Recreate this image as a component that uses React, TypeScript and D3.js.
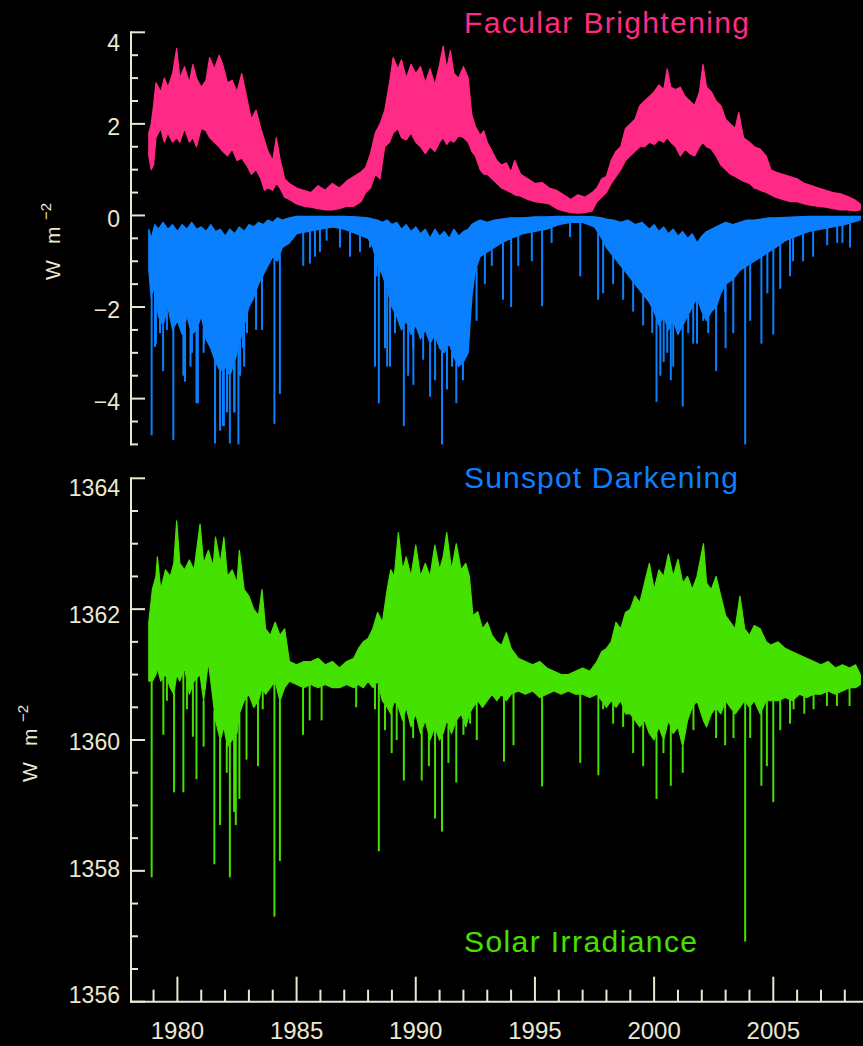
import React from "react";
import * as d3 from "d3";

// [year, upper, lower] envelopes
const faculae: [number, number, number][] = [
  [1978.8, 1.8, 1.3], [1978.9, 2.0, 1.0], [1979.0, 2.4, 1.1], [1979.1, 2.9, 1.7], [1979.3, 2.7, 1.9],
  [1979.45, 3.0, 1.6], [1979.6, 2.8, 1.8], [1979.8, 3.1, 1.6], [1979.97, 3.65, 1.7], [1980.1, 3.0, 1.6],
  [1980.3, 3.25, 1.9], [1980.5, 2.9, 1.6], [1980.65, 3.3, 1.7], [1980.8, 3.0, 1.5], [1981.0, 2.8, 1.9],
  [1981.2, 2.95, 1.85], [1981.35, 3.45, 1.7], [1981.55, 3.2, 1.6], [1981.75, 3.5, 1.5], [1981.9, 3.3, 1.4],
  [1982.1, 2.9, 1.3], [1982.3, 2.95, 1.45], [1982.5, 2.7, 1.2], [1982.7, 3.1, 1.25], [1982.9, 2.6, 1.1],
  [1983.1, 2.1, 0.9], [1983.3, 2.3, 1.0], [1983.5, 1.9, 0.8], [1983.65, 1.65, 0.55], [1983.8, 1.4, 0.6],
  [1984.0, 1.2, 0.55], [1984.15, 1.7, 0.7], [1984.3, 1.25, 0.6], [1984.5, 0.8, 0.4], [1984.7, 0.7, 0.35],
  [1985.0, 0.6, 0.25], [1985.3, 0.55, 0.2], [1985.6, 0.5, 0.18], [1985.9, 0.65, 0.15], [1986.2, 0.55, 0.12],
  [1986.5, 0.7, 0.12], [1986.8, 0.6, 0.15], [1987.1, 0.75, 0.2], [1987.4, 0.85, 0.2], [1987.7, 0.95, 0.3],
  [1987.9, 1.05, 0.5], [1988.1, 1.35, 0.6], [1988.3, 1.8, 0.9], [1988.5, 2.0, 0.8], [1988.7, 2.3, 1.5],
  [1988.9, 2.9, 1.6], [1989.05, 3.45, 1.8], [1989.25, 3.2, 1.9], [1989.4, 3.4, 1.7], [1989.6, 3.0, 1.65],
  [1989.8, 3.3, 1.8], [1990.0, 3.1, 1.6], [1990.2, 3.25, 1.5], [1990.4, 2.9, 1.35], [1990.6, 3.2, 1.5],
  [1990.8, 2.85, 1.4], [1991.0, 3.3, 1.6], [1991.15, 3.7, 1.7], [1991.3, 3.2, 1.55], [1991.45, 3.6, 1.65],
  [1991.6, 3.1, 1.6], [1991.8, 3.0, 1.75], [1992.0, 3.25, 1.7], [1992.2, 3.0, 1.6], [1992.35, 2.2, 1.4],
  [1992.5, 1.95, 1.3], [1992.7, 1.75, 1.0], [1992.85, 1.85, 0.9], [1993.0, 1.6, 0.9], [1993.2, 1.4, 0.8],
  [1993.4, 1.2, 0.7], [1993.6, 1.1, 0.6], [1993.8, 1.15, 0.55], [1994.0, 0.95, 0.5], [1994.15, 1.2, 0.45],
  [1994.4, 0.9, 0.42], [1994.7, 0.8, 0.35], [1995.0, 0.7, 0.3], [1995.3, 0.72, 0.28], [1995.6, 0.6, 0.25],
  [1995.9, 0.55, 0.15], [1996.2, 0.45, 0.1], [1996.5, 0.35, 0.06], [1996.8, 0.45, 0.05], [1997.1, 0.4, 0.06],
  [1997.4, 0.5, 0.1], [1997.6, 0.6, 0.3], [1997.8, 0.8, 0.4], [1998.0, 0.85, 0.5], [1998.2, 1.2, 0.7],
  [1998.4, 1.4, 0.85], [1998.6, 1.5, 1.0], [1998.8, 1.9, 1.2], [1999.0, 2.0, 1.3], [1999.2, 2.1, 1.4],
  [1999.4, 2.4, 1.5], [1999.6, 2.5, 1.5], [1999.8, 2.6, 1.6], [2000.0, 2.7, 1.55], [2000.2, 2.85, 1.65],
  [2000.4, 2.75, 1.6], [2000.55, 3.2, 1.7], [2000.7, 2.8, 1.6], [2000.9, 2.75, 1.5], [2001.1, 2.8, 1.3],
  [2001.3, 2.6, 1.45], [2001.5, 2.5, 1.35], [2001.7, 2.4, 1.3], [2001.9, 2.7, 1.5], [2002.05, 3.3, 1.6],
  [2002.2, 2.8, 1.5], [2002.4, 2.7, 1.45], [2002.6, 2.5, 1.3], [2002.8, 2.4, 1.1], [2003.0, 2.1, 1.0],
  [2003.2, 2.0, 0.9], [2003.4, 1.9, 0.85], [2003.55, 2.25, 0.8], [2003.75, 1.7, 0.75], [2004.0, 1.6, 0.7],
  [2004.2, 1.5, 0.6], [2004.45, 1.45, 0.55], [2004.7, 1.3, 0.5], [2004.9, 1.0, 0.45], [2005.1, 0.95, 0.4],
  [2005.4, 0.9, 0.35], [2005.7, 0.85, 0.3], [2006.0, 0.8, 0.3], [2006.3, 0.7, 0.25], [2006.6, 0.65, 0.22],
  [2006.9, 0.6, 0.2], [2007.2, 0.55, 0.18], [2007.5, 0.5, 0.15], [2007.8, 0.48, 0.12], [2008.1, 0.42, 0.12],
  [2008.4, 0.35, 0.1], [2008.65, 0.25, 0.12],
];

const sunspots: [number, number, number][] = [
  [1978.8, -0.3, -1.2], [1978.9, -0.5, -1.8], [1979.05, -0.2, -1.5], [1979.2, -0.3, -2.2], [1979.4, -0.15, -2.4],
  [1979.6, -0.3, -2.0], [1979.8, -0.2, -2.5], [1980.0, -0.35, -2.3], [1980.2, -0.2, -2.6], [1980.4, -0.3, -2.2],
  [1980.6, -0.15, -2.6], [1980.8, -0.3, -2.5], [1981.0, -0.25, -2.2], [1981.2, -0.35, -2.7], [1981.4, -0.2, -2.9],
  [1981.6, -0.35, -3.2], [1981.8, -0.3, -3.4], [1982.0, -0.45, -3.3], [1982.2, -0.3, -3.5], [1982.4, -0.4, -3.2],
  [1982.6, -0.25, -2.8], [1982.8, -0.35, -2.4], [1983.0, -0.2, -2.0], [1983.2, -0.25, -1.8], [1983.4, -0.15, -1.5],
  [1983.6, -0.2, -1.3], [1983.8, -0.1, -1.1], [1984.0, -0.15, -0.9], [1984.2, -0.05, -1.0], [1984.4, -0.1, -0.7],
  [1984.7, -0.05, -0.6], [1985.0, -0.02, -0.4], [1985.5, -0.02, -0.35], [1986.0, -0.02, -0.3], [1986.5, -0.02, -0.25],
  [1987.0, -0.02, -0.3], [1987.5, -0.03, -0.4], [1988.0, -0.05, -0.5], [1988.2, -0.08, -0.7], [1988.4, -0.1, -1.1],
  [1988.6, -0.15, -1.3], [1988.8, -0.1, -1.6], [1989.0, -0.2, -2.0], [1989.2, -0.15, -2.2], [1989.4, -0.3, -2.5],
  [1989.6, -0.2, -2.3], [1989.8, -0.35, -2.6], [1990.0, -0.25, -2.4], [1990.2, -0.4, -2.7], [1990.4, -0.3, -2.5],
  [1990.6, -0.5, -2.8], [1990.8, -0.3, -2.6], [1991.0, -0.45, -2.9], [1991.2, -0.35, -3.0], [1991.4, -0.5, -2.8],
  [1991.6, -0.3, -3.1], [1991.8, -0.45, -3.3], [1992.0, -0.35, -3.2], [1992.2, -0.3, -3.0], [1992.35, -0.2, -1.8],
  [1992.5, -0.15, -1.2], [1992.7, -0.1, -0.9], [1993.0, -0.15, -0.8], [1993.3, -0.1, -0.7], [1993.6, -0.08, -0.6],
  [1994.0, -0.05, -0.5], [1994.5, -0.05, -0.4], [1995.0, -0.03, -0.35], [1995.5, -0.03, -0.3], [1996.0, -0.02, -0.2],
  [1996.5, -0.02, -0.15], [1997.0, -0.02, -0.15], [1997.5, -0.03, -0.25], [1997.8, -0.05, -0.5], [1998.0, -0.08, -0.7],
  [1998.3, -0.1, -0.9], [1998.6, -0.15, -1.1], [1998.9, -0.1, -1.3], [1999.2, -0.2, -1.5], [1999.5, -0.15, -1.7],
  [1999.8, -0.3, -1.9], [2000.0, -0.2, -2.1], [2000.2, -0.35, -2.4], [2000.4, -0.25, -2.2], [2000.6, -0.4, -2.5],
  [2000.8, -0.3, -2.3], [2001.0, -0.45, -2.6], [2001.2, -0.35, -2.4], [2001.4, -0.5, -2.2], [2001.6, -0.4, -2.0],
  [2001.8, -0.6, -1.8], [2002.0, -0.45, -2.1], [2002.2, -0.35, -2.3], [2002.4, -0.3, -2.1], [2002.6, -0.25, -2.0],
  [2002.8, -0.2, -1.7], [2003.0, -0.15, -1.5], [2003.3, -0.2, -1.4], [2003.6, -0.15, -1.2], [2003.9, -0.1, -1.1],
  [2004.2, -0.1, -1.0], [2004.5, -0.08, -0.9], [2004.8, -0.05, -0.8], [2005.1, -0.05, -0.7], [2005.5, -0.04, -0.55],
  [2006.0, -0.03, -0.45], [2006.5, -0.02, -0.35], [2007.0, -0.02, -0.3], [2007.5, -0.02, -0.25], [2008.0, -0.02, -0.2],
  [2008.3, -0.02, -0.15], [2008.65, -0.02, -0.1],
];

// [year, value] downward spikes below the sunspot band
const sunspotDips: [number, number][] = [
  [1978.92, -4.8], [1979.06, -2.87], [1979.1, -2.8], [1979.27, -2.57], [1979.4, -3.4], [1979.56, -2.5],
  [1979.83, -4.9], [1980.25, -3.5], [1980.32, -3.63], [1980.55, -3.3], [1980.61, -3.0], [1980.8, -4.1],
  [1980.86, -4.1], [1981.1, -3.0], [1981.12, -2.8], [1981.45, -2.9], [1981.58, -4.98], [1981.79, -4.7],
  [1981.91, -4.6], [1981.95, -4.6], [1982.08, -4.3], [1982.2, -4.98], [1982.38, -4.3], [1982.4, -4.3],
  [1982.56, -5.0], [1982.63, -3.5], [1982.75, -2.9], [1982.8, -3.3], [1982.92, -2.57], [1983.3, -2.5],
  [1983.55, -2.5], [1984.07, -4.55], [1984.3, -3.9], [1985.28, -1.1], [1985.56, -1.05], [1985.77, -0.9],
  [1985.98, -0.8], [1986.26, -0.55], [1986.82, -0.7], [1987.24, -0.9], [1987.66, -0.8], [1988.08, -0.7],
  [1988.29, -3.3], [1988.36, -1.33], [1988.45, -4.1], [1988.71, -2.9], [1988.8, -3.3], [1988.92, -3.3],
  [1989.13, -2.57], [1989.5, -4.6], [1989.68, -3.5], [1989.89, -2.9], [1989.9, -3.7], [1990.31, -3.15],
  [1990.6, -3.96], [1990.81, -3.6], [1991.1, -5.0], [1991.31, -3.8], [1991.52, -3.3], [1991.7, -4.1],
  [1991.98, -3.6], [1992.15, -3.0], [1992.55, -2.3], [1992.9, -1.5], [1993.19, -1.1], [1993.66, -1.84],
  [1994.0, -2.0], [1994.3, -1.1], [1994.87, -1.0], [1995.3, -1.98], [1995.7, -0.6], [1996.47, -0.47],
  [1996.9, -1.33], [1997.65, -1.84], [1997.86, -1.7], [1998.28, -1.5], [1998.7, -1.84], [1999.12, -2.1],
  [1999.54, -2.4], [1999.92, -2.57], [2000.1, -4.07], [2000.26, -3.5], [2000.4, -3.2], [2000.55, -3.0],
  [2000.7, -3.6], [2000.8, -3.3], [2001.2, -4.17], [2001.43, -2.57], [2001.64, -2.8], [2001.8, -2.8],
  [2002.06, -2.3], [2002.27, -2.57], [2002.6, -3.4], [2002.98, -2.1], [2003.0, -2.9], [2003.32, -2.57],
  [2003.82, -5.0], [2004.03, -2.3], [2004.5, -2.8], [2004.75, -1.7], [2005.0, -2.6], [2005.29, -1.6],
  [2005.7, -1.33], [2005.83, -1.0], [2006.25, -1.0], [2006.67, -0.9], [2007.26, -0.65], [2007.68, -0.6],
  [2007.9, -0.6], [2008.22, -0.7],
];

const irradiance: [number, number, number][] = [
  [1978.8, 1361.8, 1360.9], [1978.95, 1362.3, 1360.9], [1979.1, 1362.5, 1361.0], [1979.16, 1362.8, 1361.1],
  [1979.3, 1362.3, 1360.9], [1979.5, 1362.6, 1361.0], [1979.7, 1362.5, 1360.8], [1979.85, 1362.7, 1360.7],
  [1979.97, 1363.35, 1361.0], [1980.1, 1362.7, 1360.9], [1980.3, 1362.6, 1361.1], [1980.5, 1362.75, 1360.7],
  [1980.7, 1362.6, 1360.9], [1980.95, 1363.3, 1361.0], [1981.1, 1362.7, 1360.6], [1981.3, 1362.9, 1361.2],
  [1981.5, 1362.65, 1360.6], [1981.6, 1363.1, 1360.3], [1981.8, 1362.7, 1360.0], [1981.95, 1363.1, 1360.2],
  [1982.1, 1362.5, 1359.9], [1982.3, 1362.6, 1360.0], [1982.5, 1362.4, 1360.1], [1982.6, 1362.9, 1360.4],
  [1982.8, 1362.3, 1360.6], [1983.0, 1362.2, 1360.7], [1983.2, 1362.0, 1360.5], [1983.4, 1361.9, 1360.6],
  [1983.55, 1362.3, 1360.8], [1983.7, 1361.7, 1360.7], [1983.9, 1361.6, 1360.8], [1984.1, 1361.8, 1360.9],
  [1984.3, 1361.6, 1360.6], [1984.5, 1361.7, 1360.8], [1984.7, 1361.2, 1360.9], [1985.0, 1361.15, 1360.85],
  [1985.3, 1361.2, 1360.8], [1985.6, 1361.2, 1360.85], [1985.9, 1361.25, 1360.8], [1986.2, 1361.15, 1360.85],
  [1986.5, 1361.2, 1360.8], [1986.8, 1361.1, 1360.8], [1987.1, 1361.2, 1360.85], [1987.4, 1361.25, 1360.8],
  [1987.6, 1361.4, 1360.85], [1987.8, 1361.5, 1360.8], [1988.0, 1361.55, 1360.9], [1988.2, 1361.7, 1360.8],
  [1988.4, 1361.95, 1360.9], [1988.6, 1361.8, 1360.6], [1988.8, 1362.3, 1360.5], [1988.95, 1362.6, 1360.4],
  [1989.1, 1362.5, 1360.6], [1989.27, 1363.17, 1360.5], [1989.45, 1362.6, 1360.3], [1989.6, 1362.8, 1360.5],
  [1989.8, 1362.5, 1360.2], [1990.0, 1362.98, 1360.4], [1990.2, 1362.5, 1360.1], [1990.4, 1362.7, 1360.3],
  [1990.6, 1362.5, 1360.0], [1990.8, 1362.98, 1360.2], [1991.0, 1362.6, 1360.0], [1991.15, 1362.8, 1360.1],
  [1991.3, 1363.17, 1360.3], [1991.5, 1362.6, 1360.1], [1991.7, 1363.0, 1360.3], [1991.9, 1362.6, 1360.4],
  [1992.1, 1362.7, 1360.2], [1992.25, 1362.5, 1360.4], [1992.4, 1361.9, 1360.5], [1992.6, 1361.96, 1360.6],
  [1992.8, 1361.7, 1360.5], [1993.0, 1361.8, 1360.6], [1993.2, 1361.6, 1360.7], [1993.4, 1361.5, 1360.6],
  [1993.6, 1361.45, 1360.7], [1993.8, 1361.64, 1360.6], [1994.0, 1361.4, 1360.7], [1994.3, 1361.25, 1360.75],
  [1994.6, 1361.2, 1360.7], [1994.9, 1361.15, 1360.75], [1995.2, 1361.2, 1360.65], [1995.5, 1361.1, 1360.7],
  [1995.8, 1361.05, 1360.75], [1996.1, 1361.0, 1360.7], [1996.4, 1361.0, 1360.75], [1996.7, 1361.05, 1360.7],
  [1997.0, 1361.1, 1360.7], [1997.3, 1361.05, 1360.65], [1997.6, 1361.2, 1360.7], [1997.8, 1361.35, 1360.6],
  [1998.0, 1361.4, 1360.5], [1998.2, 1361.5, 1360.6], [1998.4, 1361.8, 1360.5], [1998.6, 1361.7, 1360.6],
  [1998.8, 1361.95, 1360.4], [1999.0, 1362.0, 1360.4], [1999.2, 1362.2, 1360.3], [1999.4, 1362.1, 1360.2],
  [1999.6, 1362.4, 1360.3], [1999.8, 1362.7, 1360.1], [2000.0, 1362.3, 1360.0], [2000.2, 1362.6, 1360.2],
  [2000.4, 1362.5, 1360.0], [2000.6, 1362.84, 1360.3], [2000.8, 1362.5, 1360.1], [2001.0, 1362.76, 1360.2],
  [2001.2, 1362.4, 1359.9], [2001.4, 1362.5, 1360.3], [2001.6, 1362.3, 1360.5], [2001.8, 1362.5, 1360.6],
  [2002.07, 1363.0, 1360.3], [2002.2, 1362.4, 1360.2], [2002.4, 1362.3, 1360.4], [2002.6, 1362.5, 1360.5],
  [2002.8, 1362.2, 1360.4], [2003.0, 1361.9, 1360.6], [2003.2, 1361.8, 1360.5], [2003.4, 1361.7, 1360.4],
  [2003.6, 1362.2, 1360.5], [2003.8, 1361.7, 1360.6], [2004.0, 1361.6, 1360.5], [2004.2, 1361.75, 1360.6],
  [2004.45, 1361.7, 1360.4], [2004.7, 1361.5, 1360.6], [2004.9, 1361.45, 1360.6], [2005.2, 1361.5, 1360.6],
  [2005.5, 1361.4, 1360.65], [2005.8, 1361.35, 1360.6], [2006.1, 1361.3, 1360.7], [2006.4, 1361.25, 1360.65],
  [2006.7, 1361.2, 1360.7], [2007.0, 1361.15, 1360.7], [2007.3, 1361.2, 1360.75], [2007.6, 1361.1, 1360.7],
  [2007.9, 1361.15, 1360.75], [2008.2, 1361.1, 1360.8], [2008.45, 1361.15, 1360.8], [2008.65, 1361.0, 1360.85],
];

// [year, value] downward spikes below the irradiance band
const irradianceDips: [number, number][] = [
  [1978.92, 1357.9], [1979.41, 1360.08], [1979.56, 1360.6], [1979.86, 1359.2], [1980.25, 1359.2],
  [1980.4, 1360.47], [1980.65, 1360.05], [1980.8, 1359.4], [1981.1, 1359.9], [1981.16, 1360.9],
  [1981.55, 1358.1], [1981.79, 1358.7], [1982.07, 1359.5], [1982.2, 1357.9], [1982.38, 1358.9],
  [1982.45, 1358.7], [1982.6, 1359.1], [1982.9, 1359.7], [1983.38, 1359.6], [1983.58, 1360.47],
  [1984.07, 1357.3], [1984.3, 1358.15], [1985.27, 1360.08], [1985.55, 1360.3], [1986.05, 1360.3],
  [1987.5, 1360.5], [1988.29, 1360.47], [1988.45, 1358.3], [1988.71, 1360.15], [1988.99, 1359.8],
  [1989.2, 1360.0], [1989.5, 1359.38], [1989.89, 1360.03], [1990.25, 1359.38], [1990.55, 1359.6],
  [1990.81, 1358.8], [1991.1, 1358.6], [1991.37, 1359.65], [1991.7, 1359.35], [1992.0, 1360.08],
  [1992.28, 1360.25], [1992.56, 1360.0], [1993.7, 1359.67], [1994.1, 1359.92], [1995.3, 1359.29],
  [1996.9, 1359.65], [1997.66, 1359.46], [1997.86, 1360.47], [1998.28, 1360.25], [1998.7, 1360.2],
  [1999.12, 1359.8], [1999.54, 1359.6], [1999.97, 1360.03], [2000.1, 1359.1], [2000.39, 1359.8],
  [2000.7, 1359.3], [2001.2, 1359.5], [2001.65, 1360.15], [2002.6, 1360.03], [2002.98, 1359.92],
  [2003.33, 1360.03], [2003.82, 1356.92], [2004.03, 1360.03], [2004.5, 1359.3], [2004.73, 1359.6],
  [2005.0, 1359.05], [2005.29, 1360.15], [2005.7, 1360.25], [2005.85, 1360.47], [2006.3, 1360.4],
  [2006.69, 1360.47], [2007.25, 1360.52], [2007.67, 1360.52], [2008.2, 1360.52],
];

const yearTicks = [1980, 1985, 1990, 1995, 2000, 2005];
const topTickLabels = [-4, -2, 0, 2, 4];
const bottomTickLabels = [1356, 1358, 1360, 1362, 1364];

const PINK = "#ff2a85";
const BLUE = "#0b80ff";
const GREEN = "#45e100";
const AXIS = "#ebe7d2";

const W = 863;
const H = 1046;
const AX = 131;
const FONT = "Liberation Sans, Arial, sans-serif";

const x = d3.scaleLinear().domain([1980, 2005]).range([177.4, 773.3]);
const yTop = d3.scaleLinear().domain([-5, 4]).range([444.4, 32.3]);
const yBot = d3.scaleLinear().domain([1356, 1364]).range([1001.7, 478.3]);
const yBotLabel = d3.scaleLinear().domain([1356, 1364]).range([995, 488]);

type Row = [number, number, number];

function band(data: Row[], y: d3.ScaleLinear<number, number>) {
  return (
    d3
      .area<Row>()
      .x((d) => x(d[0]))
      .y0((d) => y(d[2]))
      .y1((d) => y(d[1]))(data) || ""
  );
}

function lowerEdge(data: Row[]) {
  return d3
    .scaleLinear()
    .domain(data.map((d) => d[0]))
    .range(data.map((d) => d[2]))
    .clamp(true);
}

const fmt = (v: number) => (v < 0 ? "\u2212" + Math.abs(v) : String(v));

function YAxis({ y, labels, labelY, lo, hi }: any) {
  const minor = d3.range(lo, hi + 0.001, 0.5).filter((v) => !labels.includes(v));
  return (
    <g stroke={AXIS} strokeWidth={2}>
      <line x1={AX} x2={AX} y1={y(hi) - 1} y2={y(lo) + 1} />
      {labels.map((v: number) => (
        <line key={"M" + v} x1={AX} x2={AX + 14} y1={y(v)} y2={y(v)} />
      ))}
      {minor.map((v: number) => (
        <line key={"m" + v} x1={AX} x2={AX + 7} y1={y(v)} y2={y(v)} />
      ))}
      {labels.map((v: number) => (
        <text key={"t" + v} x={120} y={labelY(v)} dy="0.36em" textAnchor="end" fill={AXIS}
          stroke="none" fontSize={23} fontFamily={FONT}>
          {fmt(v)}
        </text>
      ))}
    </g>
  );
}

function YTitle({ bx, by }: { bx: number; by: number }) {
  return (
    <g transform={`translate(${bx},${by}) rotate(-90)`} fill={AXIS} fontFamily={FONT}>
      <text x={0} y={0} fontSize={21}>W</text>
      <text x={36} y={0} fontSize={21}>m</text>
      <text x={60} y={-9} fontSize={15}>{"\u22122"}</text>
    </g>
  );
}

export default function App() {
  const spotLo = lowerEdge(sunspots);
  const tsiLo = lowerEdge(irradiance);
  const minorYears = d3.range(1979, 2009).filter((v) => !yearTicks.includes(v));
  const xAxisY = yBot(1356);
  return (
    <svg width={W} height={H} viewBox={`0 0 ${W} ${H}`}
      style={{ position: "absolute", left: 0, top: 0, background: "#000" }}>
      <rect x={0} y={0} width={W} height={H} fill="#000" />

      <path d={band(faculae, yTop)} fill={PINK} stroke={PINK} strokeWidth={1.2} strokeLinejoin="round" />
      <path d={band(sunspots, yTop)} fill={BLUE} stroke={BLUE} strokeWidth={1.2} strokeLinejoin="round" />
      {sunspotDips.map(([t, v], i) => (
        <line key={"sd" + i} x1={x(t)} x2={x(t)} y1={yTop(spotLo(t))} y2={yTop(v)} stroke={BLUE} strokeWidth={2} />
      ))}
      <path d={band(irradiance, yBot)} fill={GREEN} stroke={GREEN} strokeWidth={1.2} strokeLinejoin="round" />
      {irradianceDips.map(([t, v], i) => (
        <line key={"td" + i} x1={x(t)} x2={x(t)} y1={yBot(tsiLo(t))} y2={yBot(v)} stroke={GREEN} strokeWidth={2} />
      ))}

      <g fontFamily={FONT} fontSize={30}>
        <text x={464} y={33} fill={PINK} textLength={285} lengthAdjust="spacing">Facular Brightening</text>
        <text x={464} y={488} fill={BLUE} textLength={274} lengthAdjust="spacing">Sunspot Darkening</text>
        <text x={464} y={952} fill={GREEN} textLength={233} lengthAdjust="spacing">Solar Irradiance</text>
      </g>

      <YAxis y={yTop} labels={topTickLabels} lo={-5} hi={4}
        labelY={(v: number) => Math.max(yTop(v) + 3, yTop(4) + 10)} />
      <YAxis y={yBot} labels={bottomTickLabels} lo={1356} hi={1364} labelY={(v: number) => yBotLabel(v)} />

      <g stroke={AXIS} strokeWidth={2}>
        <line x1={AX - 1} x2={W} y1={xAxisY} y2={xAxisY} />
        {yearTicks.map((t) => (
          <line key={"X" + t} x1={x(t)} x2={x(t)} y1={xAxisY} y2={xAxisY - 25} />
        ))}
        {minorYears.map((t) => (
          <line key={"x" + t} x1={x(t)} x2={x(t)} y1={xAxisY} y2={xAxisY - 12} />
        ))}
      </g>
      {yearTicks.map((t) => (
        <text key={"xl" + t} x={x(t)} y={1039} textAnchor="middle" fill={AXIS} fontSize={24} fontFamily={FONT}>
          {t}
        </text>
      ))}

      <YTitle bx={60} by={280} />
      <YTitle bx={37} by={782} />
    </svg>
  );
}
